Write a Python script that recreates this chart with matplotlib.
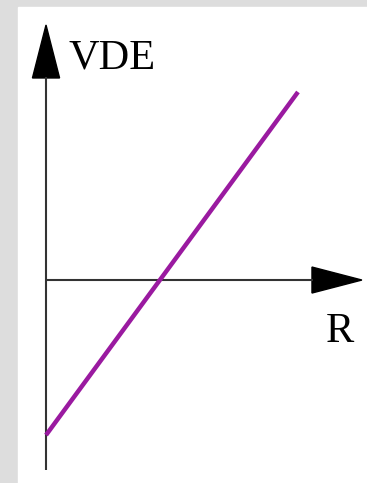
import matplotlib
matplotlib.use("Agg")
import matplotlib.pyplot as plt
from matplotlib.patches import Polygon, Rectangle

# line data (arbitrary units, origin at axis crossing)
R_values = [0.0, 2.23]
VDE_values = [-1.372, 1.664]
x_label = "R"
y_label = "VDE"

W, H = 367, 483
fig = plt.figure(figsize=(W / 100, H / 100), dpi=100)
fig.patch.set_facecolor("#dddddd")

# white panel, pixel box 18..367 x 7..483
fig.add_artist(Rectangle((18 / W, 0), (W - 18) / W, (H - 7) / H,
                         transform=fig.transFigure, color="white", zorder=0))

ax = fig.add_axes([18 / W, 0, (W - 18) / W, (H - 7) / H])
ax.set_xlim(-0.248, 2.841)
ax.set_ylim(-1.796, 2.416)
ax.axis("off")

axis_col = "#333333"
# vertical axis + arrow
ax.plot([0, 0], [-1.681, 1.80], color=axis_col, lw=1.5, solid_capstyle="butt")
ax.add_patch(Polygon([[-0.12, 1.788], [0.12, 1.788], [0.0, 2.257]],
                     closed=True, color="black"))
# horizontal axis + arrow
ax.plot([0, 2.36], [0, 0], color=axis_col, lw=1.5, solid_capstyle="butt")
ax.add_patch(Polygon([[2.354, 0.115], [2.354, -0.115], [2.796, 0.0]],
                     closed=True, color="black"))

# the VDE line
ax.plot(R_values, VDE_values, color="#9a1aa0", lw=3.2, solid_capstyle="butt")

ax.text(0.195, 1.876, y_label, family="Liberation Serif", fontsize=30.5,
        ha="left", va="baseline")
ax.text(2.478, -0.549, x_label, family="Liberation Serif", fontsize=30.5,
        ha="left", va="baseline")

fig.savefig("out.png", dpi=100, facecolor=fig.get_facecolor())
